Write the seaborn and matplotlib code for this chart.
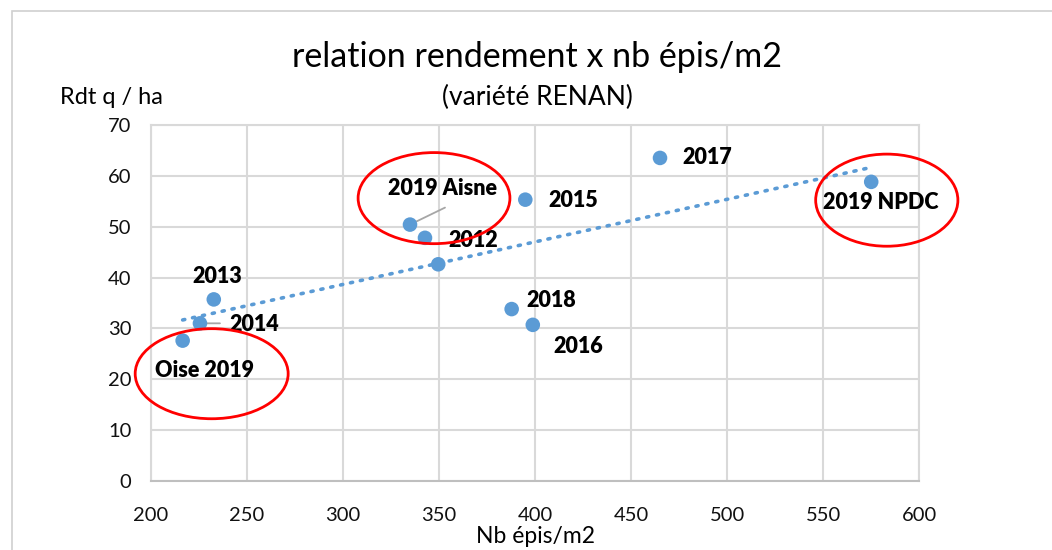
import numpy as np
import pandas as pd
import matplotlib
matplotlib.use('Agg')
import matplotlib.pyplot as plt
from matplotlib.patches import Ellipse, Rectangle
import seaborn as sns

# ── Data ─────────────────────────────────────────────────────────────
labels = ['2019 Aisne', '2012', '', '2013', '2014', 'Oise 2019',
          '2018', '2016', '2017', '2015', '2019 NPDC']
epis = [334.9, 342.7, 349.6, 232.8, 225.6, 216.6, 387.8, 398.8, 465.0, 394.9, 574.9]
rdt = [50.4, 47.8, 42.6, 35.7, 31.0, 27.6, 33.8, 30.7, 63.5, 55.3, 58.8]

# label offsets in pixels (dx, dy), horizontal alignment, leader line
label_pos = {
    '2019 Aisne': (33, 36, 'center', True),
    '2012': (23, -3, 'left', False),
    '2013': (3, 23, 'center', False),
    '2014': (29, -1, 'left', True),
    'Oise 2019': (-28, -30, 'left', False),
    '2018': (15, 9, 'left', False),
    '2016': (21, -22, 'left', False),
    '2017': (22, 0, 'left', False),
    '2015': (23, -1, 'left', False),
    '2019 NPDC': (10, -21, 'center', False),
}

# red circled groups (centre x, centre y, width, height) in data units
circles = [(347.4, 55.6, 79, 17.9), (231.7, 21.1, 79.6, 17.7), (583.0, 55.2, 74, 18.1)]

df = pd.DataFrame({'epis': epis, 'rdt': rdt, 'label': labels})

BLUE = '#5B9BD5'
GRID = '#D9D9D9'

sns.set_style('white')
plt.rcParams['font.family'] = ['Lato', 'DejaVu Sans']
plt.rcParams['text.color'] = 'black'
plt.rcParams['axes.labelcolor'] = 'black'

fig = plt.figure(figsize=(10.52, 5.5), dpi=100)
ax = fig.add_axes([0.1433, 0.1253, 0.874 - 0.1433, 0.773 - 0.1253])

# chart-area border
fig.patches.append(Rectangle((12 / 1052, -0.01), 1.0, 1 - 11 / 550 + 0.01,
                             transform=fig.transFigure, fill=False,
                             edgecolor='#D0D0D0', lw=1.2))

sns.regplot(data=df, x='epis', y='rdt', ax=ax, ci=None,
            scatter_kws=dict(s=110, color=BLUE, edgecolor='none', zorder=3, alpha=1),
            line_kws=dict(color=BLUE, lw=2.6, ls=(0, (0.6, 2.2)),
                          dash_capstyle='round', zorder=2))

ax.set_xlim(200, 600)
ax.set_ylim(0, 70)
ax.set_xticks(np.arange(200, 601, 50))
ax.set_yticks(np.arange(0, 71, 10))
ax.grid(True, color=GRID, lw=1.5)
ax.set_axisbelow(True)
for s in ax.spines.values():
    s.set_color(GRID)
    s.set_linewidth(1.5)
ax.spines['bottom'].set_color('#BFBFBF')
ax.tick_params(axis='x', labelsize=14.5, pad=19, length=0, colors='#111111')
ax.tick_params(axis='y', labelsize=14.5, pad=14, length=0, colors='#111111')
ax.set_xlabel('Nb épis/m2', fontsize=16.5, labelpad=1, color='black')
ax.set_ylabel('')

for lab, x, y in zip(labels, epis, rdt):
    if not lab:
        continue
    dx, dy, ha, leader = label_pos[lab]
    ax.annotate(lab, (x, y), xytext=(dx, dy), textcoords='offset pixels',
                ha=ha, va='center', fontsize=15.5, fontweight='heavy',
                color='black', zorder=5)
    if leader:
        if lab == '2014':
            end = (20, 0)
        else:
            end = (35, 17)
        ax.annotate('', (x, y), xytext=end, textcoords='offset pixels',
                    arrowprops=dict(arrowstyle='-', color='#A6A6A6', lw=1.3,
                                    shrinkA=0, shrinkB=0), zorder=2)

for cx, cy, w, h in circles:
    ax.add_patch(Ellipse((cx, cy), w, h, fill=False, edgecolor='#FF0000',
                         lw=2, clip_on=False, zorder=6))

fig.text(537 / 1052, 1 - 57 / 550, 'relation rendement x nb épis/m2',
         ha='center', va='center', fontsize=24.5)
fig.text(537 / 1052, 1 - 97 / 550, '(variété RENAN)',
         ha='center', va='center', fontsize=19)
fig.text(111 / 1052, 1 - 98 / 550, 'Rdt q / ha',
         ha='center', va='center', fontsize=17)

fig.savefig('out.png', dpi=100)
